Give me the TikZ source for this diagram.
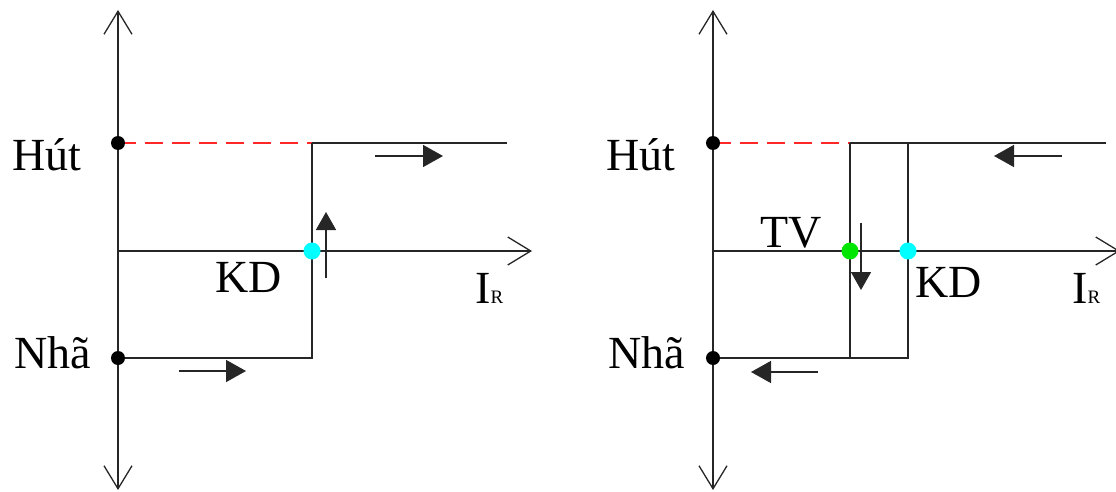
\documentclass[tikz,border=0pt]{standalone}
\usepackage{fontspec}
\setmainfont{Liberation Serif}
\usetikzlibrary{arrows.meta}
\tikzset{
  ln/.style={line width=1.6pt, draw=black!85},
  dashline/.style={line width=1.6pt, draw={rgb,255:red,255;green,40;blue,40}, dash pattern=on 18pt off 9pt},
  axis/.style={ln, -{Straight Barb[length=23pt,width=28pt,line width=1.3pt]}},
  dirarrow/.style={ln, -{Triangle[length=20pt,width=22pt]}},
  vdirarrow/.style={ln, -{Triangle[length=18pt,width=20pt]}},
  bdot/.style={circle, fill=black, inner sep=0pt, minimum size=14pt},
  cdot/.style={circle, fill={rgb,255:red,0;green,255;blue,255}, inner sep=0pt, minimum size=17pt},
  gdot/.style={circle, fill={rgb,255:red,0;green,230;blue,0}, inner sep=0pt, minimum size=17pt},
  lbl/.style={anchor=base west, inner sep=0pt, font=\fontsize{46}{50}\selectfont},
}
\newcommand{\IRlabel}{I\fontsize{19}{19}\selectfont R}
\begin{document}
\begin{tikzpicture}[x=1pt, y=-1pt]
\useasboundingbox (0,0) rectangle (1116,492);
% ---------- left panel ----------
\coordinate (Lo) at (118,251);
\coordinate (Ltop) at (118,10);
\coordinate (Lbot) at (118,490);
\coordinate (Lx) at (532,251);
\coordinate (Lh) at (118,143);
\coordinate (Ln) at (118,358);
\coordinate (Lhk) at (312,143);
\coordinate (Lnk) at (312,358);
\coordinate (Lhend) at (507,143);
\draw[axis] (Lo) -- (Ltop);
\draw[axis] (Lo) -- (Lbot);
\draw[axis] (Lo) -- (Lx);
\draw[dashline] (Lh) -- (Lhk);
\draw[ln] (Lhk) -- (Lhend);
\draw[ln] (Ln) -- (Lnk) -- (Lhk);
\coordinate (La1s) at (375,156); \coordinate (La1e) at (443,156);
\draw[dirarrow] (La1s) -- (La1e);
\coordinate (La2s) at (179,371); \coordinate (La2e) at (246,371);
\draw[dirarrow] (La2s) -- (La2e);
\coordinate (La3s) at (326,278); \coordinate (La3e) at (326,212);
\draw[vdirarrow] (La3s) -- (La3e);
\node[bdot] (LdH) at (Lh) {};
\node[bdot] (LdN) at (Ln) {};
\node[cdot] (LdK) at (312,251) {};
\node[lbl] (LtH) at (12,171) {Hút};
\node[lbl] (LtN) at (14,368) {Nhã};
\node[lbl] (LtK) at (215,292) {KD};
\node[lbl] (LtI) at (475,303) {\IRlabel};
% ---------- right panel ----------
\coordinate (Ro) at (713,251);
\coordinate (Rtop) at (713,10);
\coordinate (Rbot) at (713,490);
\coordinate (Rx) at (1120,251);
\coordinate (Rh) at (713,143);
\coordinate (Rn) at (713,358);
\coordinate (Rht) at (850,143);
\coordinate (Rnt) at (850,358);
\coordinate (Rhk) at (908,143);
\coordinate (Rnk) at (908,358);
\coordinate (Rhend) at (1106,143);
\draw[axis] (Ro) -- (Rtop);
\draw[axis] (Ro) -- (Rbot);
\draw[axis] (Ro) -- (Rx);
\draw[dashline] (Rh) -- (Rht);
\draw[ln] (Rht) -- (Rhend);
\draw[ln] (Rht) -- (Rnt);
\draw[ln] (Rn) -- (Rnk) -- (Rhk);
\coordinate (Ra1s) at (1062,156); \coordinate (Ra1e) at (994,156);
\draw[dirarrow] (Ra1s) -- (Ra1e);
\coordinate (Ra2s) at (818,372); \coordinate (Ra2e) at (751,372);
\draw[dirarrow] (Ra2s) -- (Ra2e);
\coordinate (Ra3s) at (861,223); \coordinate (Ra3e) at (861,290);
\draw[vdirarrow] (Ra3s) -- (Ra3e);
\node[bdot] (RdH) at (Rh) {};
\node[bdot] (RdN) at (Rn) {};
\node[gdot] (RdT) at (850,251) {};
\node[cdot] (RdK) at (908,251) {};
\node[lbl] (RtH) at (606,171) {Hút};
\node[lbl] (RtN) at (608,368) {Nhã};
\node[lbl] (RtT) at (760,247) {TV};
\node[lbl] (RtK) at (915,297) {KD};
\node[lbl] (RtI) at (1072,303) {\IRlabel};
\end{tikzpicture}
\end{document}
